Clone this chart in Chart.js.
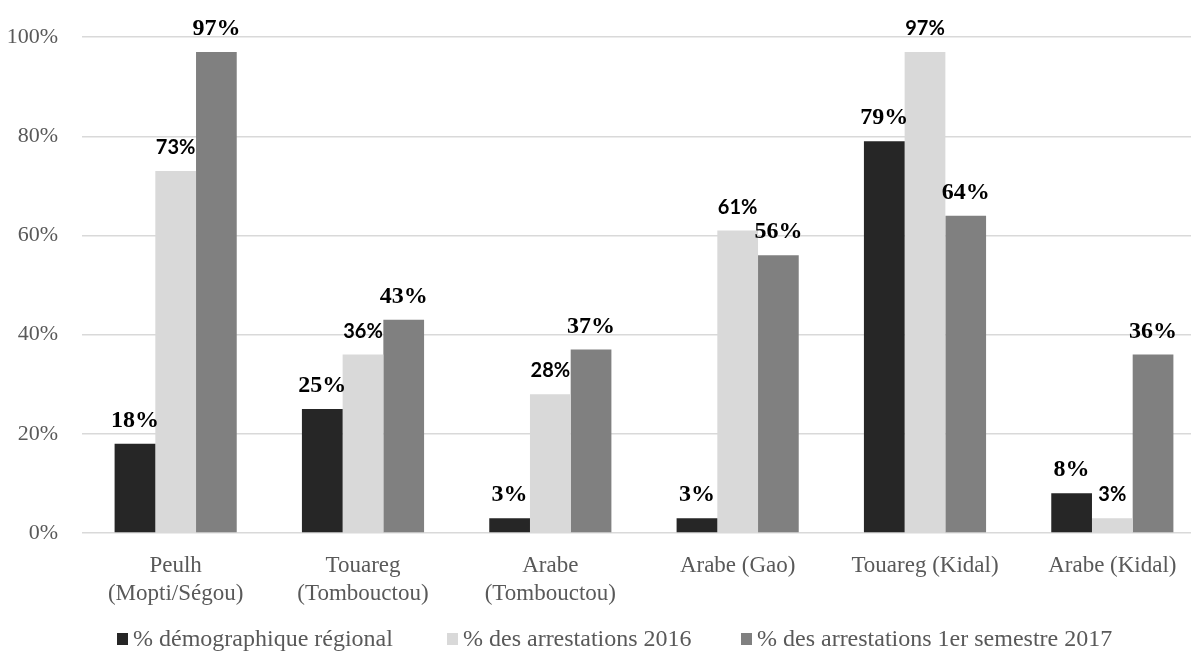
<!DOCTYPE html>
<html>
<head>
<meta charset="utf-8">
<script src="https://cdn.jsdelivr.net/npm/chart.js@4.4.1/dist/chart.umd.min.js"></script>
<style>
  html, body { margin: 0; padding: 0; background: #fff; overflow: hidden; }
  #wrap { position: relative; width: 1206px; height: 651px; }
  #legend { position: absolute; left: 0; top: 624px; font-family: 'Liberation Serif', 'Times New Roman', serif; font-size: 24px; color: #595959; white-space: nowrap; }
  #legend .item { position: absolute; top: 0; line-height: 28px; }
  #legend .box { display: inline-block; width: 11px; height: 12px; margin-right: 5px; vertical-align: 1px; }
</style>
</head>
<body>
<div id="wrap">
  <canvas id="chart"></canvas>
  <div id="legend"></div>
</div>
<script>
const categories = [
  ['Peulh', '(Mopti/Ségou)'],
  ['Touareg', '(Tombouctou)'],
  ['Arabe', '(Tombouctou)'],
  'Arabe (Gao)',
  'Touareg (Kidal)',
  'Arabe (Kidal)'
];
const seriesNames = ['% démographique régional', '% des arrestations 2016', '% des arrestations 1er semestre 2017'];
const demographic = [18, 25, 3, 3, 79, 8];
const arrests2016 = [73, 36, 28, 61, 97, 3];
const arrests2017 = [97, 43, 37, 56, 64, 36];
const yTicks = [0, 20, 40, 60, 80, 100];

const colors = ['#262626', '#d9d9d9', '#808080'];
const labelFonts = [
  'bold 24px "Liberation Serif", serif',
  'bold 20px Lato, "Open Sans", sans-serif',
  'bold 24px "Liberation Serif", serif'
];

// value labels above each bar
const barLabels = {
  id: 'barLabels',
  afterDatasetsDraw(chart) {
    const ctx = chart.ctx;
    ctx.save();
    ctx.fillStyle = '#000';
    ctx.textAlign = 'center';
    ctx.textBaseline = 'alphabetic';
    chart.data.datasets.forEach((ds, i) => {
      ctx.font = labelFonts[i];
      chart.getDatasetMeta(i).data.forEach((bar, j) => {
        ctx.fillText(ds.data[j] + '%', bar.x, bar.y - 17);
      });
    });
    ctx.restore();
  }
};

const chart = new Chart(document.getElementById('chart'), {
  type: 'bar',
  data: {
    labels: categories,
    datasets: [demographic, arrests2016, arrests2017].map((d, i) => ({
      label: seriesNames[i],
      data: d,
      backgroundColor: colors[i],
      borderWidth: 0,
      barPercentage: 1,
      categoryPercentage: 0.652
    }))
  },
  options: {
    responsive: true,
    maintainAspectRatio: false,
    animation: false,
    layout: { padding: { top: 34, left: 0, right: 0, bottom: 0 } },
    plugins: {
      legend: { display: false },
      tooltip: { enabled: false }
    },
    scales: {
      x: {
        grid: { display: false },
        border: { display: false },
        ticks: {
          color: '#595959',
          padding: 11,
          maxRotation: 0,
          autoSkip: false,
          font: { family: '"Liberation Serif", serif', size: 23, lineHeight: 1.22 }
        },
        afterFit(scale) { scale.height = 118; }
      },
      y: {
        min: 0,
        max: 100,
        afterBuildTicks(scale) { scale.ticks = yTicks.map(v => ({ value: v })); },
        grid: { color: '#d9d9d9', lineWidth: 1.5, drawTicks: false },
        border: { display: false },
        ticks: {
          color: '#595959',
          padding: 24,
          font: { family: '"Liberation Serif", serif', size: 22 },
          callback: v => v + '%'
        },
        afterFit(scale) { scale.width = 82; }
      }
    }
  },
  plugins: [barLabels]
});

// legend
const legendX = [117, 447, 741];
const legend = document.getElementById('legend');
seriesNames.forEach((name, i) => {
  const item = document.createElement('span');
  item.className = 'item';
  item.style.left = legendX[i] + 'px';
  item.innerHTML = '<span class="box" style="background:' + colors[i] + '"></span>' + name;
  legend.appendChild(item);
});
</script>
</body>
</html>
